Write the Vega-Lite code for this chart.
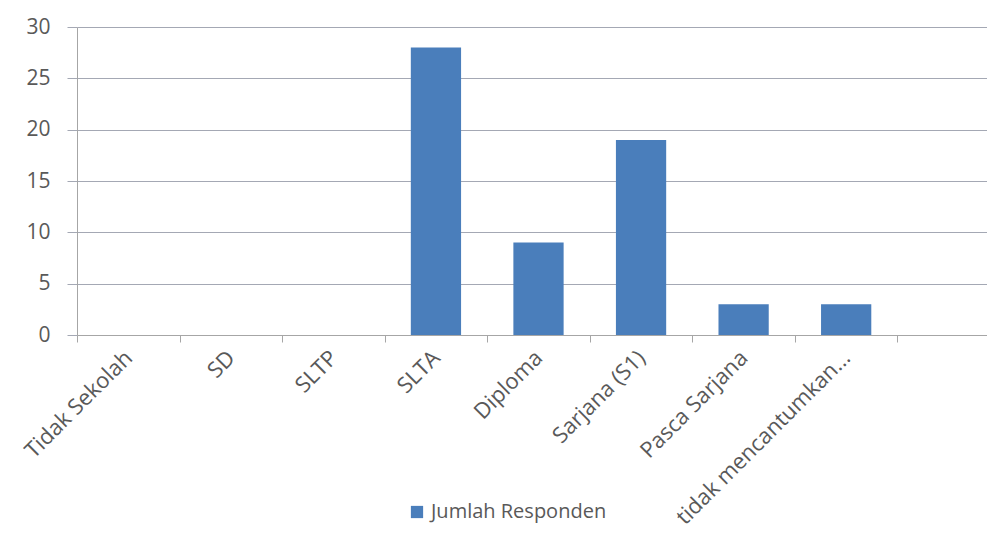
{
  "$schema": "https://vega.github.io/schema/vega-lite/v6.json",
  "autosize": "none",
  "width": 923,
  "height": 308,
  "padding": {"left": 77, "top": 27, "right": 0, "bottom": 213},
  "background": "white",
  "config": {
    "view": {"stroke": null},
    "font": "Open Sans"
  },
  "data": {
    "values": [
      {"kategori": "Tidak Sekolah", "jumlah": 0, "seri": "Jumlah Responden"},
      {"kategori": "SD", "jumlah": 0, "seri": "Jumlah Responden"},
      {"kategori": "SLTP", "jumlah": 0, "seri": "Jumlah Responden"},
      {"kategori": "SLTA", "jumlah": 28, "seri": "Jumlah Responden"},
      {"kategori": "Diploma", "jumlah": 9, "seri": "Jumlah Responden"},
      {"kategori": "Sarjana (S1)", "jumlah": 19, "seri": "Jumlah Responden"},
      {"kategori": "Pasca Sarjana", "jumlah": 3, "seri": "Jumlah Responden"},
      {"kategori": "tidak mencantumkan...", "jumlah": 3, "seri": "Jumlah Responden"}
    ]
  },
  "mark": {"type": "bar", "width": {"band": 0.49}},
  "encoding": {
    "x": {
      "field": "kategori",
      "type": "nominal",
      "sort": null,
      "scale": {
        "domain": ["Tidak Sekolah", "SD", "SLTP", "SLTA", "Diploma", "Sarjana (S1)", "Pasca Sarjana", "tidak mencantumkan...", " "],
        "paddingInner": 0,
        "paddingOuter": 0
      },
      "axis": {
        "title": null,
        "labelAngle": -45,
        "labelAlign": "right",
        "labelBaseline": "middle",
        "labelFont": "Open Sans",
        "labelFontSize": 22,
        "labelColor": "#595959",
        "labelPadding": 12,
        "labelLimit": 500,
        "tickBand": "extent",
        "tickSize": 7,
        "tickColor": "#a6a6a6",
        "domainColor": "#a6a6a6",
        "grid": false
      }
    },
    "y": {
      "field": "jumlah",
      "type": "quantitative",
      "scale": {"domain": [0, 30], "nice": false},
      "axis": {
        "title": null,
        "values": [0, 5, 10, 15, 20, 25, 30],
        "labelFont": "Open Sans",
        "labelFontSize": 21,
        "labelColor": "#595959",
        "labelPadding": 17,
        "tickSize": 10,
        "tickColor": "#a4a8b4",
        "domainColor": "#a6a6a6",
        "gridColor": "#a4a8b4",
        "gridWidth": 1
      }
    },
    "color": {
      "field": "seri",
      "type": "nominal",
      "scale": {"range": ["#4a7ebb"]},
      "legend": {
        "title": null,
        "orient": "none",
        "legendX": 330,
        "legendY": 475,
        "symbolType": "square",
        "symbolSize": 150,
        "symbolStrokeWidth": 0,
        "labelFont": "Open Sans",
        "labelFontSize": 20,
        "labelLimit": 400,
        "labelColor": "#595959",
        "labelOffset": 4
      }
    }
  }
}
